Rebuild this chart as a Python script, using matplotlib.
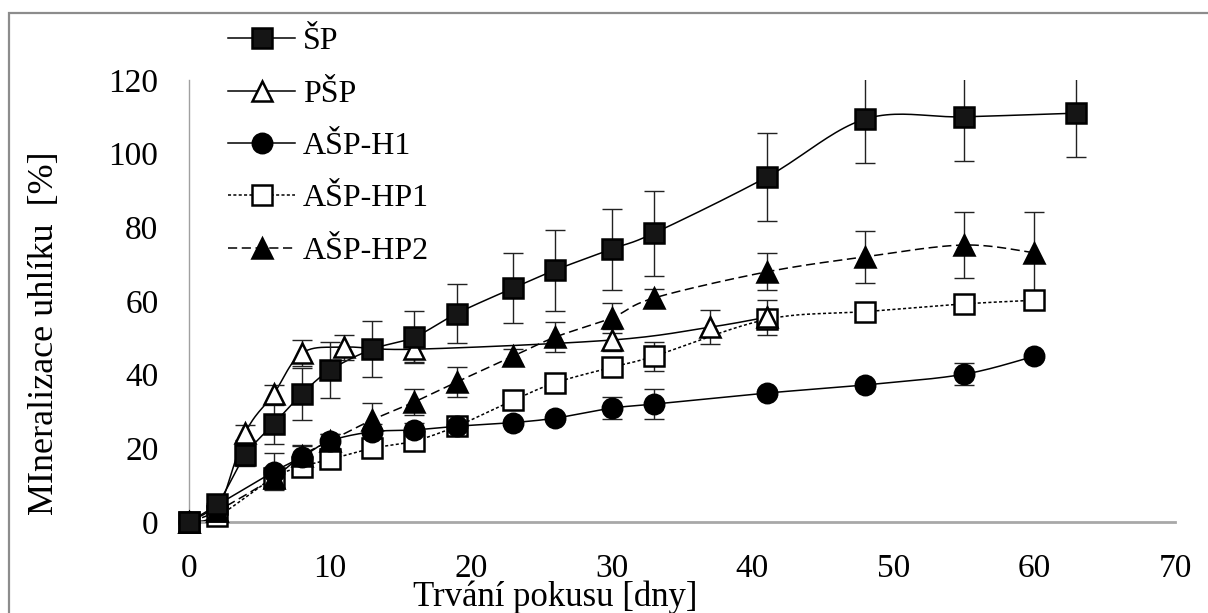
import numpy as np
import matplotlib.pyplot as plt
from matplotlib.lines import Line2D
from matplotlib.patches import Rectangle

plt.rcParams['font.family'] = ['Liberation Serif', 'DejaVu Serif']

# --- data ---
sp_days = [0, 2, 4, 6, 8, 10, 13, 16, 19, 23, 26, 30, 33, 41, 48, 55, 63]
sp_vals = [0, 5, 18.2, 26.6, 34.7, 41.2, 46.9, 50.2, 56.6, 63.5, 68.4, 74.1, 78.4, 93.6, 109.4, 110, 111]
sp_err = [0, 1, 3, 5.3, 7, 7.6, 7.6, 7, 8, 9.4, 11, 11, 11.6, 12, 12, 12, 12]

psp_days = [0, 2, 4, 6, 8, 11, 16, 30, 37, 41]
psp_vals = [0, 3, 24.2, 34.7, 45.8, 47.5, 46.9, 49.4, 52.9, 55.6]
psp_err = [0, 1, 2, 2.5, 3.5, 3.4, 3.5, 3, 4.6, 4.7]

h1_days = [0, 2, 6, 8, 10, 13, 16, 19, 23, 26, 30, 33, 41, 48, 55, 60]
h1_vals = [0, 4.6, 13.6, 17.6, 22, 24.5, 25, 26, 27, 28.2, 30.9, 32, 35, 37.2, 40.1, 45]
h1_err = [0, 1, 5, 3, 2, 2, 2, 1, 1, 1, 3, 4, 1, 1, 3, 1]

hp1_days = [0, 2, 6, 8, 10, 13, 16, 19, 23, 26, 30, 33, 41, 48, 55, 60]
hp1_vals = [0, 1.5, 12, 15, 17, 20, 22, 26, 33, 37.8, 42, 45, 55, 57.1, 59.2, 60.2]
hp1_err = [0, 0.5, 2, 2, 2, 2, 2, 1, 2, 2, 2, 4, 2, 2, 2, 2]

hp2_days = [0, 2, 6, 8, 10, 13, 16, 19, 23, 26, 30, 33, 41, 48, 55, 60]
hp2_vals = [0, 3, 12, 18, 22, 27.7, 32.6, 38, 45, 50.2, 55.4, 60.8, 67.9, 72, 75.2, 73.1]
hp2_err = [0, 1, 3, 3, 2, 4.5, 3.5, 4, 2, 4, 4, 2.4, 5, 7, 9, 11]

labels = ['ŠP', 'PŠP', 'AŠP-H1', 'AŠP-HP1', 'AŠP-HP2']
x_ticks = [0, 10, 20, 30, 40, 50, 60, 70]
y_ticks = [0, 20, 40, 60, 80, 100, 120]


def smooth(x, y, n=24):
    # catmull-rom like the "smoothed line" option of spreadsheet charts
    x = np.asarray(x, float)
    y = np.asarray(y, float)
    px = np.concatenate([[x[0]], x, [x[-1]]])
    py = np.concatenate([[y[0]], y, [y[-1]]])
    xs, ys = [], []
    t = np.linspace(0, 1, n)
    for i in range(1, len(px) - 2):
        p0, p1, p2, p3 = (np.array([px[j], py[j]]) for j in (i - 1, i, i + 1, i + 2))
        c1 = p1 + (p2 - p0) / 6
        c2 = p2 - (p3 - p1) / 6
        b = ((1 - t) ** 3)[:, None] * p1 + (3 * (1 - t) ** 2 * t)[:, None] * c1 \
            + (3 * (1 - t) * t ** 2)[:, None] * c2 + (t ** 3)[:, None] * p2
        xs.append(b[:, 0])
        ys.append(b[:, 1])
    return np.concatenate(xs), np.concatenate(ys)


fig = plt.figure(figsize=(12.08, 6.13), dpi=100)
ax = fig.add_axes([189 / 1208, 1 - 522 / 613, (1175 - 189) / 1208, (522 - 80) / 613])

# (days, values, errors, linestyle, marker style, marker zorder)
series = [
    (sp_days, sp_vals, sp_err, '-', dict(marker='s', mfc='#151515', mec='#000000'), 9),
    (psp_days, psp_vals, psp_err, '-', dict(marker='^', mfc='white', mec='black'), 5),
    (h1_days, h1_vals, h1_err, '-', dict(marker='o', mfc='black', mec='black'), 6),
    (hp1_days, hp1_vals, hp1_err, (0, (2, 1.5)), dict(marker='s', mfc='white', mec='black'), 4),
    (hp2_days, hp2_vals, hp2_err, (0, (6, 3)), dict(marker='^', mfc='black', mec='black'), 5),
]

handles = []
for (d, v, e, ls, mk, z), lab in zip(series, labels):
    sx, sy = smooth(d, v)
    ax.plot(sx, sy, color='black', lw=1.1, ls=ls, zorder=2)
    ax.errorbar(d, v, yerr=e, fmt='none', ecolor='#222222', elinewidth=1.0,
                capsize=7, capthick=1.0, zorder=3)
    ax.plot(d, v, ls='none', ms=14, mew=1.8, zorder=z, clip_on=False, **mk)
    handles.append(Line2D([], [], color='black', lw=1.1, ls=ls, ms=14, mew=1.8, **mk))

ax.set_xlim(0, 70)
ax.set_ylim(0, 120)
ax.set_xticks(x_ticks)
ax.set_yticks(y_ticks)
ax.tick_params(length=0, labelsize=24)
ax.tick_params(axis='x', pad=23)
ax.tick_params(axis='y', pad=22)
for s in ['top', 'right']:
    ax.spines[s].set_visible(False)
ax.spines['left'].set_color('#a0a0a0')
ax.spines['left'].set_linewidth(1.0)
ax.spines['bottom'].set_color('#a8a8a8')
ax.spines['bottom'].set_linewidth(2.0)

leg = fig.legend(handles, labels, loc='upper left', bbox_to_anchor=(228 / 1208, 1 - 27 / 613),
                 frameon=False, fontsize=23, handlelength=2.1, handletextpad=0.25,
                 labelspacing=0.72, borderpad=0, borderaxespad=0)

fig.text(45 / 1208, 1 - 333 / 613, 'MIneralizace uhlíku  [%]', rotation=90,
         ha='center', va='center', fontsize=26)
fig.text(555 / 1208, 1 - 597 / 613, 'Trvání pokusu [dny]', ha='center', va='center', fontsize=25)

# grey outer frame of the chart area
fig.patches.append(Rectangle((9 / 1208, -0.1), 2, 1.1 - 13 / 613, transform=fig.transFigure,
                             fill=False, ec='#8c8c8c', lw=1.6))

fig.savefig('out.png', dpi=100)
